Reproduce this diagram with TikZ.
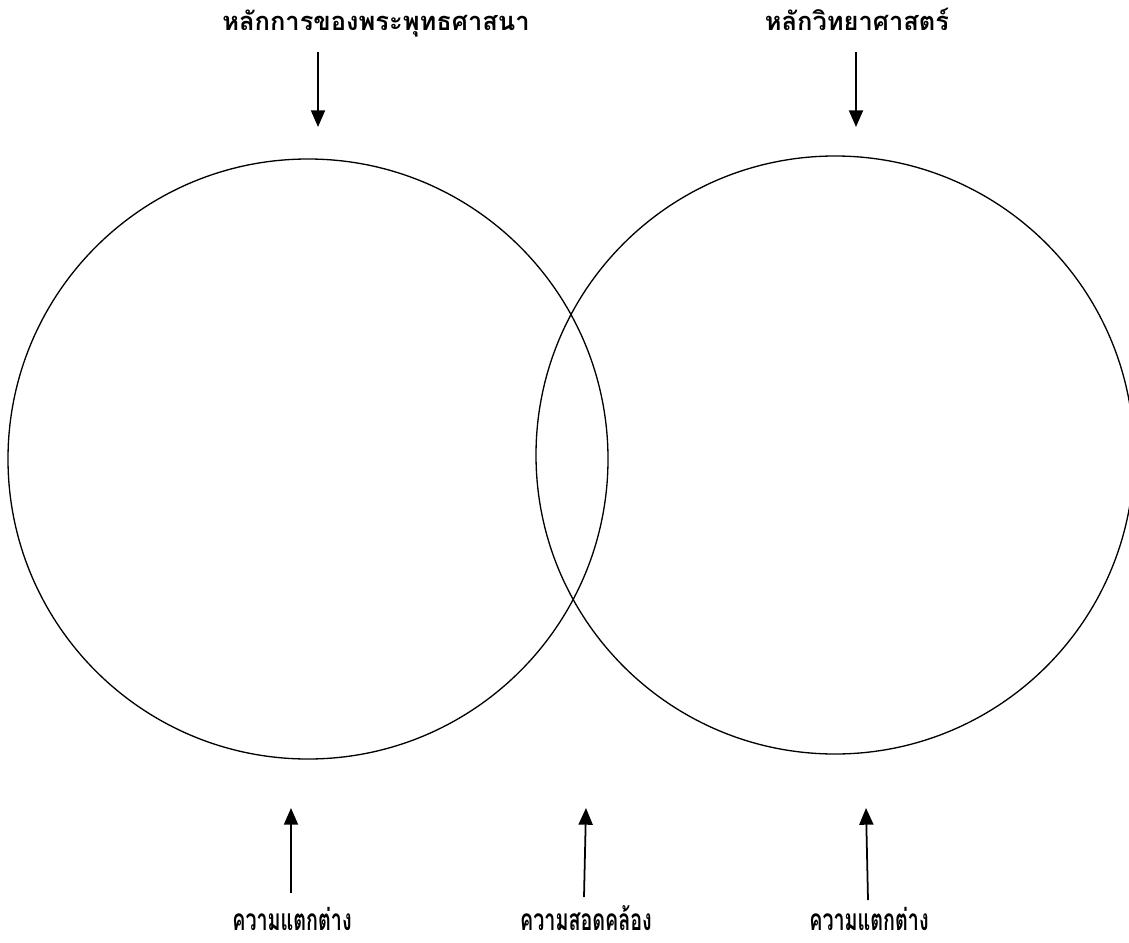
\documentclass[tikz,border=0pt]{standalone}
\usepackage{fontspec}
\usepackage{tikz}
\usetikzlibrary{arrows.meta}
\newfontfamily\thaifont[Script=Thai]{Loma}
\newfontfamily\thaicond[Script=Thai,FakeStretch=0.66]{Loma}
\tikzset{every picture/.style={line width=.55pt}}

\begin{document}
\begin{tikzpicture}[x=.02cm,y=-.02cm,>={Triangle[width=8pt,length=9.5pt]},
  topLabel/.style={font=\thaifont\bfseries\fontsize{14.5}{18}\selectfont,anchor=base},
  botLabel/.style={font=\thaicond\bfseries\fontsize{17}{20}\selectfont,anchor=base,
                   inner sep=1pt},
  ring/.style={draw=black,line width=.75pt},
  pointer/.style={->,line width=1pt}]

  \useasboundingbox (0,0) rectangle (1129,943);
  \clip (0,0) rectangle (1129,943);

  % The two overlapping principles.
  \draw[ring] (308,459) circle (300);
  \draw[ring] (835,455) circle (299);

  % Headings with their arrows into the circles.
  \node[topLabel] (buddha) at (376,31) {หลักการของพระพุทธศาสนา};
  \node[topLabel] (science) at (857,31) {หลักวิทยาศาสตร์};
  \coordinate (bTail) at (318,52);
  \coordinate (bHead) at (318,127);
  \coordinate (sTail) at (856,52);
  \coordinate (sHead) at (856,127);
  \draw[pointer] (bTail)--(bHead);
  \draw[pointer] (sTail)--(sHead);

  % What each region stands for.
  \node[botLabel] (diffL) at (292,930) {ความแตกต่าง};
  \node[botLabel] (match) at (586,930) {ความสอดคล้อง};
  \node[botLabel] (diffR) at (869,930) {ความแตกต่าง};
  \coordinate (lTail) at (291,893);
  \coordinate (lHead) at (291,808);
  \coordinate (mTail) at (584,897);
  \coordinate (mHead) at (586,808);
  \coordinate (rTail) at (868,900);
  \coordinate (rHead) at (866,808);
  \draw[pointer] (lTail)--(lHead);
  \draw[pointer] (mTail)--(mHead);
  \draw[pointer] (rTail)--(rHead);
\end{tikzpicture}
\end{document}
